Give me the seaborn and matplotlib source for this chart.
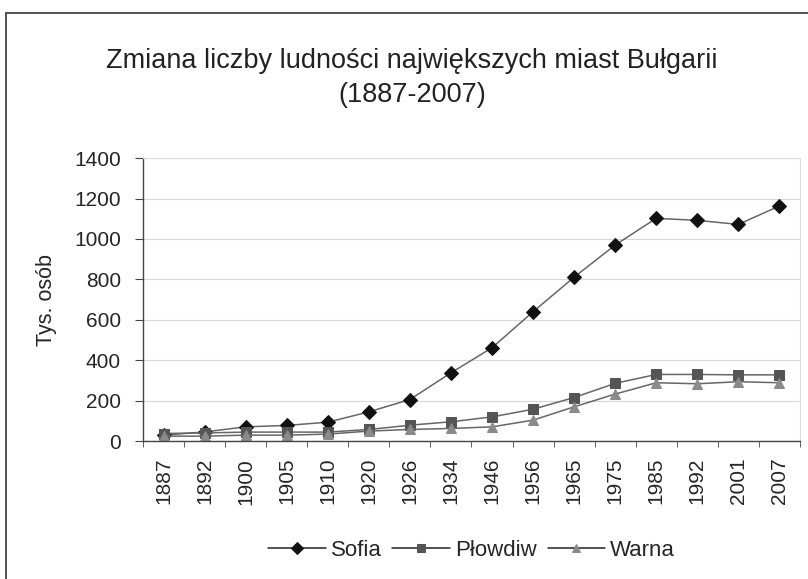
import matplotlib
matplotlib.use("Agg")
import matplotlib.pyplot as plt
from matplotlib.patches import Rectangle
import pandas as pd
import seaborn as sns

# years of the census (categorical axis)
years = ["1887", "1892", "1900", "1905", "1910", "1920", "1926", "1934",
         "1946", "1956", "1965", "1975", "1985", "1992", "2001", "2007"]

# population in thousands
sofia = [30, 46, 71, 78, 94, 145, 206, 338, 462, 640, 811, 970, 1102, 1092, 1072, 1163]
plowdiw = [38, 41, 45, 45, 45, 58, 79, 96, 120, 158, 216, 286, 330, 330, 328, 328]
warna = [25, 25, 30, 30, 35, 50, 58, 63, 71, 104, 170, 233, 289, 284, 294, 289]

cities = ["Sofia", "Płowdiw", "Warna"]
colors = {"Sofia": "#111111", "Płowdiw": "#555555", "Warna": "#8a8a8a"}
markers = {"Sofia": "D", "Płowdiw": "s", "Warna": "^"}

df = pd.DataFrame({
    "rok": years * 3,
    "ludnosc": sofia + plowdiw + warna,
    "miasto": [c for c in cities for _ in years],
})

sns.set_style("white")
plt.rcParams["font.family"] = ["Liberation Sans", "DejaVu Sans"]

fig = plt.figure(figsize=(8.08, 5.79), dpi=100)
ax = fig.add_axes([0.177, 0.238, 0.813, 0.489])

sns.lineplot(data=df, x="rok", y="ludnosc", hue="miasto", style="miasto",
             palette=colors, markers=markers, dashes=False, sort=False,
             linewidth=1.1, markersize=7, ax=ax)

# connecting lines look gray in the scan
for line, c in zip(ax.lines, cities):
    line.set_color("#666666")
    line.set_markerfacecolor(colors[c])
    line.set_markeredgecolor(colors[c])

ax.set_xlim(-0.5, len(years) - 0.5)
ax.set_ylim(0, 1400)
ax.set_yticks(range(0, 1401, 200))
ax.yaxis.grid(True, color="#d8d8d8", linewidth=0.8)
ax.set_axisbelow(True)

ax.set_xlabel("")
ax.set_ylabel("Tys. osób", fontsize=15.5)
ax.yaxis.set_label_coords(-0.131, 0.5)
ax.tick_params(axis="y", labelsize=15, length=6, pad=10, direction="out",
               left=True, color="#444444")
ax.tick_params(axis="x", labelsize=15, labelrotation=90, length=0, pad=12)

for s in ["left", "bottom"]:
    ax.spines[s].set_color("#444444")
    ax.spines[s].set_linewidth(1.0)
for s in ["top", "right"]:
    ax.spines[s].set_color("#dddddd")

# small ticks between categories, as in the original
ax.set_xticks([i + 0.5 for i in range(-1, len(years))], minor=True)
ax.tick_params(axis="x", which="minor", length=4, bottom=True, color="#444444")

fig.text(0.51, 0.895, "Zmiana liczby ludności największych miast Bułgarii",
         ha="center", va="center", fontsize=19.5, color="#222222")
fig.text(0.51, 0.836, "(1887-2007)", ha="center", va="center", fontsize=19.5, color="#222222")

handles, labels = ax.get_legend_handles_labels()
for h, c in zip(handles, cities):
    h.set_markersize(6)
    h.set_color("#222222")
    h.set_markerfacecolor(colors[c])
    h.set_markeredgecolor(colors[c])
ax.legend(handles, labels, loc="center", bbox_to_anchor=(0.5, -0.385),
          ncol=3, frameon=False, fontsize=16,
          handlelength=2.6, handletextpad=0.2, columnspacing=0.5)

# outer frame of the chart area
fig.patches.append(Rectangle((6 / 808, -0.02), 1.1, 1 - 13 / 579 + 0.02,
                             transform=fig.transFigure, fill=False,
                             edgecolor="#333333", linewidth=1.2))

fig.savefig("out.png", dpi=100)
